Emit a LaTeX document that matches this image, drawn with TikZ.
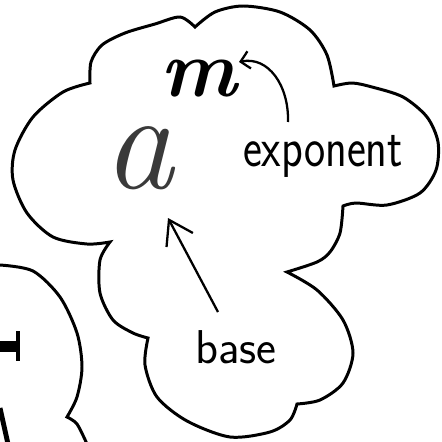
\documentclass[tikz,border=0pt]{standalone}
\usepackage{tikz}
\usetikzlibrary{arrows.meta}
\definecolor{crayon}{RGB}{58,58,58}

\begin{document}
\begin{tikzpicture}[x=0.02cm,y=-0.02cm,
    cloudline/.style={line width=1.7pt,line join=miter},
    pointer/.style={line width=1.3pt,-{Straight Barb[length=13pt,width=17pt]}},
    smallpointer/.style={line width=1.3pt,-{Straight Barb[length=5pt,width=10pt]}},
    hand/.style={font=\sffamily\fontsize{#1}{#1}\selectfont,inner sep=0pt,anchor=base}]
  \clip (0,0) rectangle (441,442);
  \fill[white] (0,0) rectangle (441,442);

  % Nuage : points de rebroussement
  \coordinate (c1) at (90,83);
  \coordinate (c2) at (195,27);
  \coordinate (c3) at (334,86);
  \coordinate (c4) at (343,206);
  \coordinate (c5) at (287,272);
  \coordinate (c6) at (297,404);
  \coordinate (c7) at (148,338);
  \coordinate (c8) at (110,242);
  \draw[cloudline]
    plot[smooth] coordinates {(c1) (91,62) (102,45) (125,33) (155,24) (180,17) (c2)}
    -- plot[smooth] coordinates {(c2) (215,12) (243,6) (280,12) (310,30) (327,55) (c3)}
    -- plot[smooth] coordinates {(c3) (352,83) (372,87) (403,97) (427,117) (438,142) (436,170) (420,193) (387,205) (356,203) (c4)}
    -- plot[smooth] coordinates {(c4) (340,233) (330,252) (317,262) (c5)}
    -- plot[smooth] coordinates {(c5) (317,290) (343,320) (353,353) (343,383) (320,400) (c6)}
    -- plot[smooth] coordinates {(c6) (290,420) (270,432) (230,437) (187,421) (157,397) (145,365) (c7)}
    -- plot[smooth] coordinates {(c7) (133,333) (113,320) (100,293) (100,260) (c8)}
    -- plot[smooth] coordinates {(c8) (87,244) (53,237) (27,213) (13,180) (15,150) (33,117) (63,92) (c1)}
    -- cycle;

  % Nuage voisin (coupé)
  \coordinate (d1) at (67,417);
  \draw[cloudline]
    plot[smooth] coordinates {(0,265) (33,271) (60,297) (77,333) (82,367) (77,397) (d1)}
    -- plot[smooth] coordinates {(d1) (77,424) (87,444)};
  \fill (0,341) rectangle (17,352);
  \draw[line width=2.4pt] (18,331) -- (18,361);
  \draw[line width=2.8pt] (0,408) -- (8,444);

  % Puissance
  \node[anchor=base,inner sep=0pt,text=crayon,font=\fontsize{80}{80}\selectfont] (alet) at (140,188) {\textit{a}};
  \node[anchor=base,inner sep=0pt,font=\fontsize{46}{46}\selectfont] (mlet) at (200,97) {\textbf{\textit{m}}};

  % Etiquettes
  \node[hand=32] (expo) at (323,167) {\scalebox{0.8}[1]{exponent}};
  \node[hand=27] (baselbl) at (236,363) {base};

  % Fleches
  \coordinate (expfoot) at (288,122);
  \coordinate (mtip) at (239,62);
  \coordinate (basefoot) at (218,312);
  \coordinate (atip) at (168,218);
  \draw[smallpointer] (expfoot) .. controls (289,85) and (268,56) .. (mtip);
  \draw[pointer] (basefoot) -- (atip);
\end{tikzpicture}
\end{document}
